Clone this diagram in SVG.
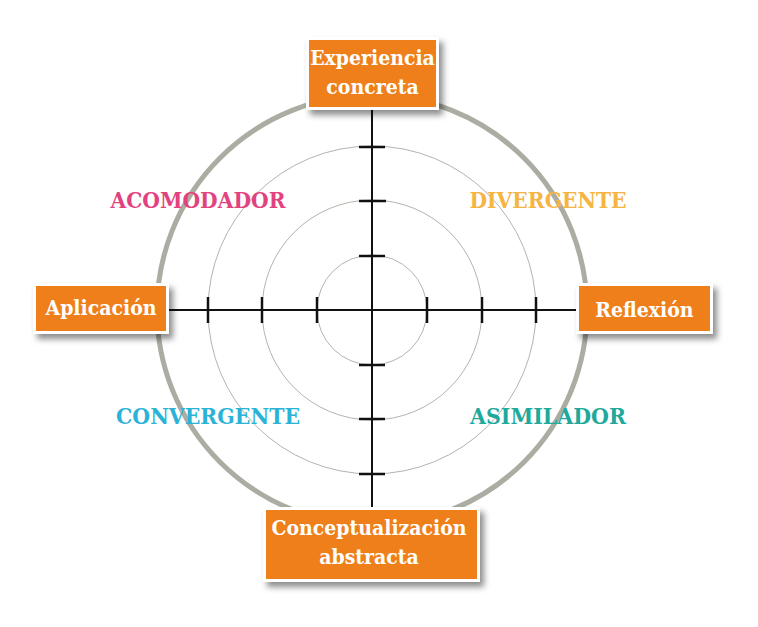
<svg xmlns="http://www.w3.org/2000/svg" width="758" height="627" viewBox="0 0 758 627">
<defs>
<filter id="sh" x="-20%" y="-20%" width="150%" height="160%">
<feDropShadow dx="4" dy="5" stdDeviation="3" flood-color="#000" flood-opacity="0.45"/>
</filter>
<style>
.ring{fill:none;stroke:#b4b4ac;stroke-width:1}
.outer{fill:none;stroke:#abaca2;stroke-width:5}
.axis{stroke:#111;stroke-width:2;fill:none}
.tick{stroke:#111;stroke-width:2.5;fill:none}
.box{fill:#fff;filter:url(#sh)}
.fill{fill:#ee7f1a}
.bt{font-family:"DejaVu Serif Condensed","DejaVu Serif",serif;font-weight:bold;font-size:21px;fill:#fff;text-anchor:middle}
.q{font-family:"DejaVu Serif",serif;font-weight:bold;font-size:22px;text-anchor:middle}
</style>
</defs>
<rect width="758" height="627" fill="#fff"/>
<g id="rings">
<circle class="outer" cx="372" cy="310" r="215"/>
<circle class="ring" cx="372" cy="310" r="164"/>
<circle class="ring" cx="372" cy="310" r="110"/>
<circle class="ring" cx="372" cy="310" r="55"/>
</g>
<g id="connectors">
<line class="axis" x1="372" y1="108" x2="372" y2="510"/>
<line class="axis" x1="168" y1="310" x2="578" y2="310"/>
<path class="tick" d="M359 147H385M359 201H386M359 256H385M359 365H385M359 419H385M359 474H385M208 297V323M262 297V323M317 297V323M427 297V323M482 297V323M536 297V323"/>
</g>
<g id="quadrants">
<text class="q" x="198" y="208" fill="#e2427f" textLength="175" lengthAdjust="spacingAndGlyphs">ACOMODADOR</text>
<text class="q" x="548" y="208" fill="#f6b443" textLength="157" lengthAdjust="spacingAndGlyphs">DIVERGENTE</text>
<text class="q" x="208" y="424" fill="#2bb3d7" textLength="184" lengthAdjust="spacingAndGlyphs">CONVERGENTE</text>
<text class="q" x="548" y="424" fill="#1fa99b" textLength="156" lengthAdjust="spacingAndGlyphs">ASIMILADOR</text>
</g>
<g id="node-experiencia">
<rect class="box" x="306" y="37" width="133" height="73"/>
<rect class="fill" x="309" y="40" width="127" height="67"/>
<text class="bt" x="372.5" y="65">Experiencia</text>
<text class="bt" x="372.5" y="94">concreta</text>
</g>
<g id="node-aplicacion">
<rect class="box" x="33" y="283" width="136" height="51"/>
<rect class="fill" x="36" y="286" width="130" height="45"/>
<text class="bt" x="101" y="315">Aplicación</text>
</g>
<g id="node-reflexion">
<rect class="box" x="576" y="283" width="137" height="51"/>
<rect class="fill" x="579" y="286" width="131" height="45"/>
<text class="bt" x="644.5" y="317">Reflexión</text>
</g>
<g id="node-conceptualizacion">
<rect class="box" x="263" y="507" width="217" height="75"/>
<rect class="fill" x="266" y="510" width="211" height="69"/>
<text class="bt" x="369" y="535">Conceptualización</text>
<text class="bt" x="369" y="564">abstracta</text>
</g>
</svg>
